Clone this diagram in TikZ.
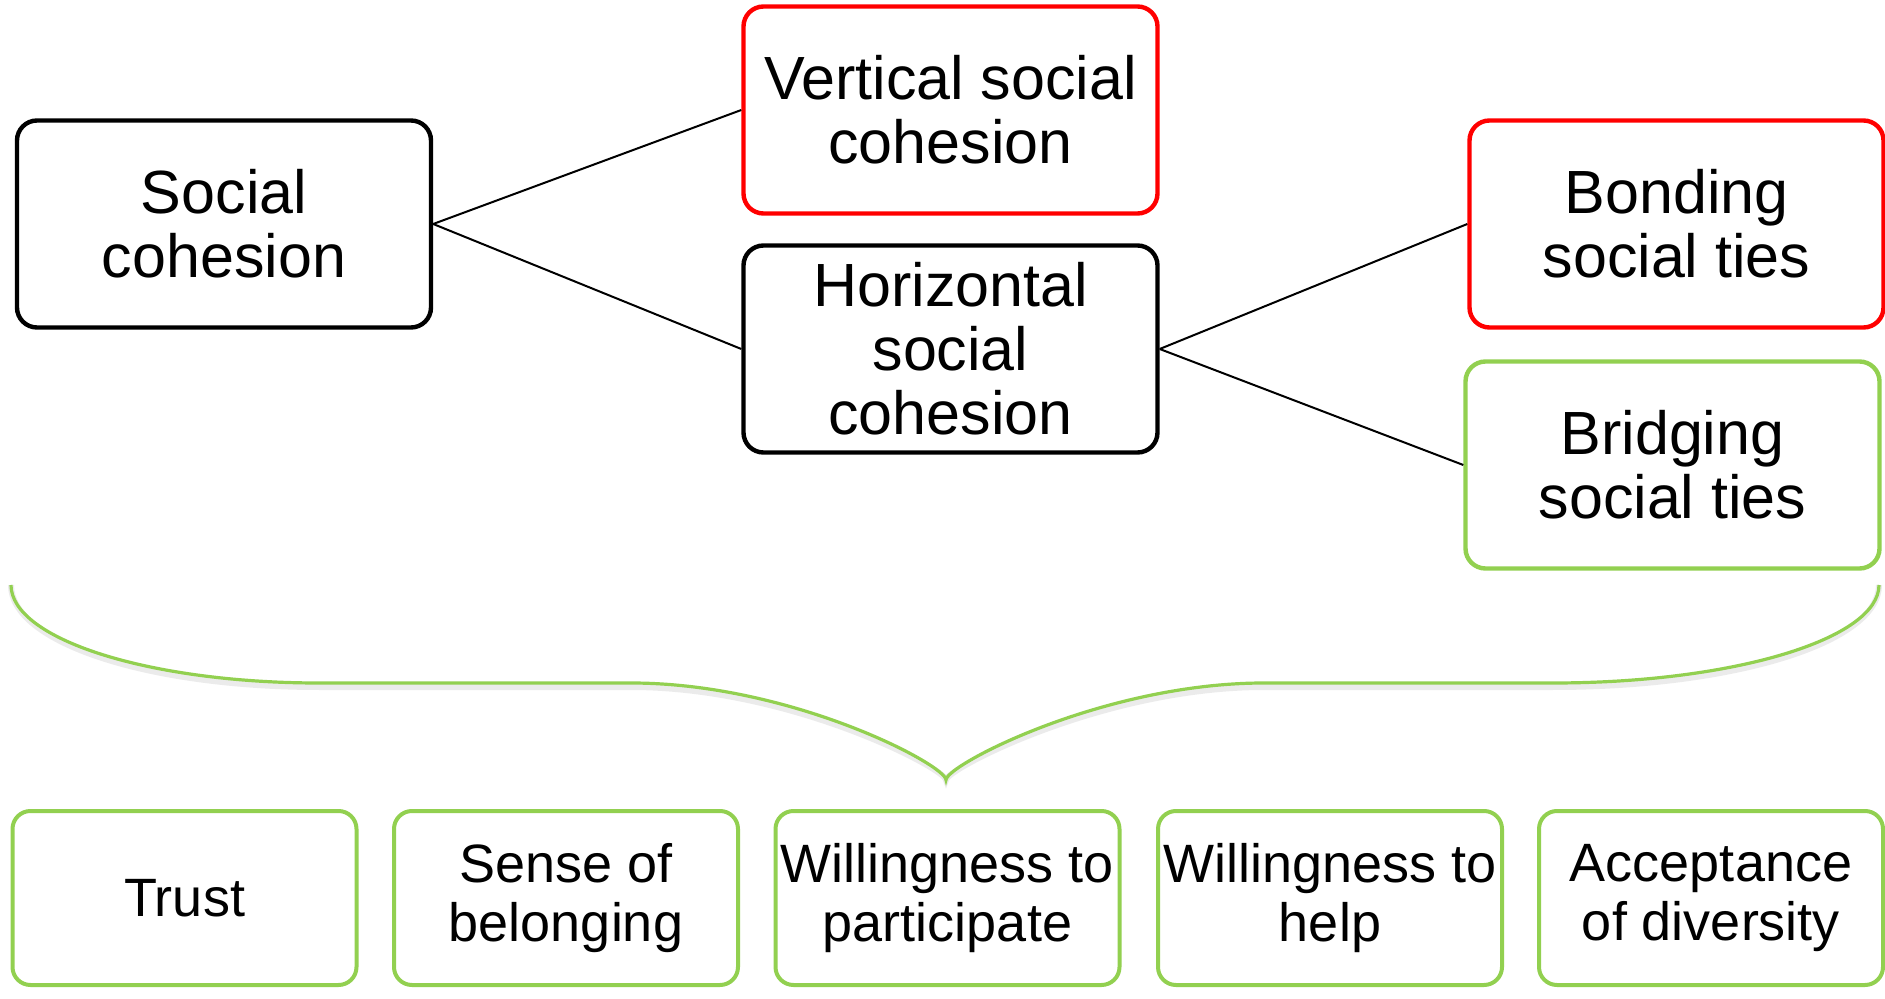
\documentclass[tikz,border=0pt]{standalone}
\usepackage{fontspec}
\setmainfont{Liberation Sans}
\definecolor{boxgreen}{RGB}{146,208,80}
\definecolor{boxred}{RGB}{255,0,0}
\tikzset{
  bigbox/.style={rectangle, rounded corners=10pt, line width=2.2pt, draw=black,
    minimum width=207pt, minimum height=103.5pt, inner sep=0pt, align=center,
    font=\fontsize{30.5}{32}\selectfont},
  redbox/.style={bigbox, draw=boxred},
  greenbox/.style={bigbox, draw=boxgreen},
  smallbox/.style={rectangle, rounded corners=9pt, line width=2pt, draw=boxgreen,
    minimum width=172pt, minimum height=87pt, inner sep=0pt, align=center,
    font=\fontsize{27}{29.5}\selectfont},
  link/.style={line width=1pt, draw=black},
  brace/.style={line width=1.6pt, draw=boxgreen},
  braceshadow/.style={line width=3pt, draw=black, opacity=0.08}
}
\begin{document}
\begin{tikzpicture}[x=0.5pt,y=-0.5pt]
\useasboundingbox (0,0) rectangle (1885,999);

\node[bigbox] (sc) at (224,224) {Social\\cohesion};
\node[redbox] (vert) at (950.5,110) {Vertical social\\cohesion};
\node[bigbox] (hor) at (950.5,349) {Horizontal\\social\\cohesion};
\node[redbox] (bond) at (1676.5,224) {Bonding\\social ties};
\node[greenbox] (bridge) at (1672.5,465) {Bridging\\social ties};

\draw[link] (sc.east) -- (vert.west);
\draw[link] (sc.east) -- (hor.west);
\draw[link] (hor.east) -- (bond.west);
\draw[link] (hor.east) -- (bridge.west);

% brace
\coordinate (bl) at (11,585);
\coordinate (br) at (1879,585);
\coordinate (tip) at (946,780);
\foreach \dy/\st in {4/braceshadow, 0/brace} {
  \draw[\st, yshift=-\dy*0.5pt] (bl) .. controls (11,639) and (149,683) .. (319,683)
    -- (631,683) .. controls (791,683) and (946,765) .. (tip)
    .. controls (946,765) and (1104,683) .. (1264,683)
    -- (1553,683) .. controls (1733,683) and (1879,639) .. (br);
}

\node[smallbox] (trust) at (184.5,898) {Trust};
\node[smallbox] (belong) at (566,898) {Sense of\\belonging};
\node[smallbox] (part) at (947.5,898) {Willingness to\\participate};
\node[smallbox] (help) at (1330,898) {Willingness to\\help};
\node[smallbox] (accept) at (1711,898) {Acceptance\\of diversity};
\end{tikzpicture}
\end{document}
